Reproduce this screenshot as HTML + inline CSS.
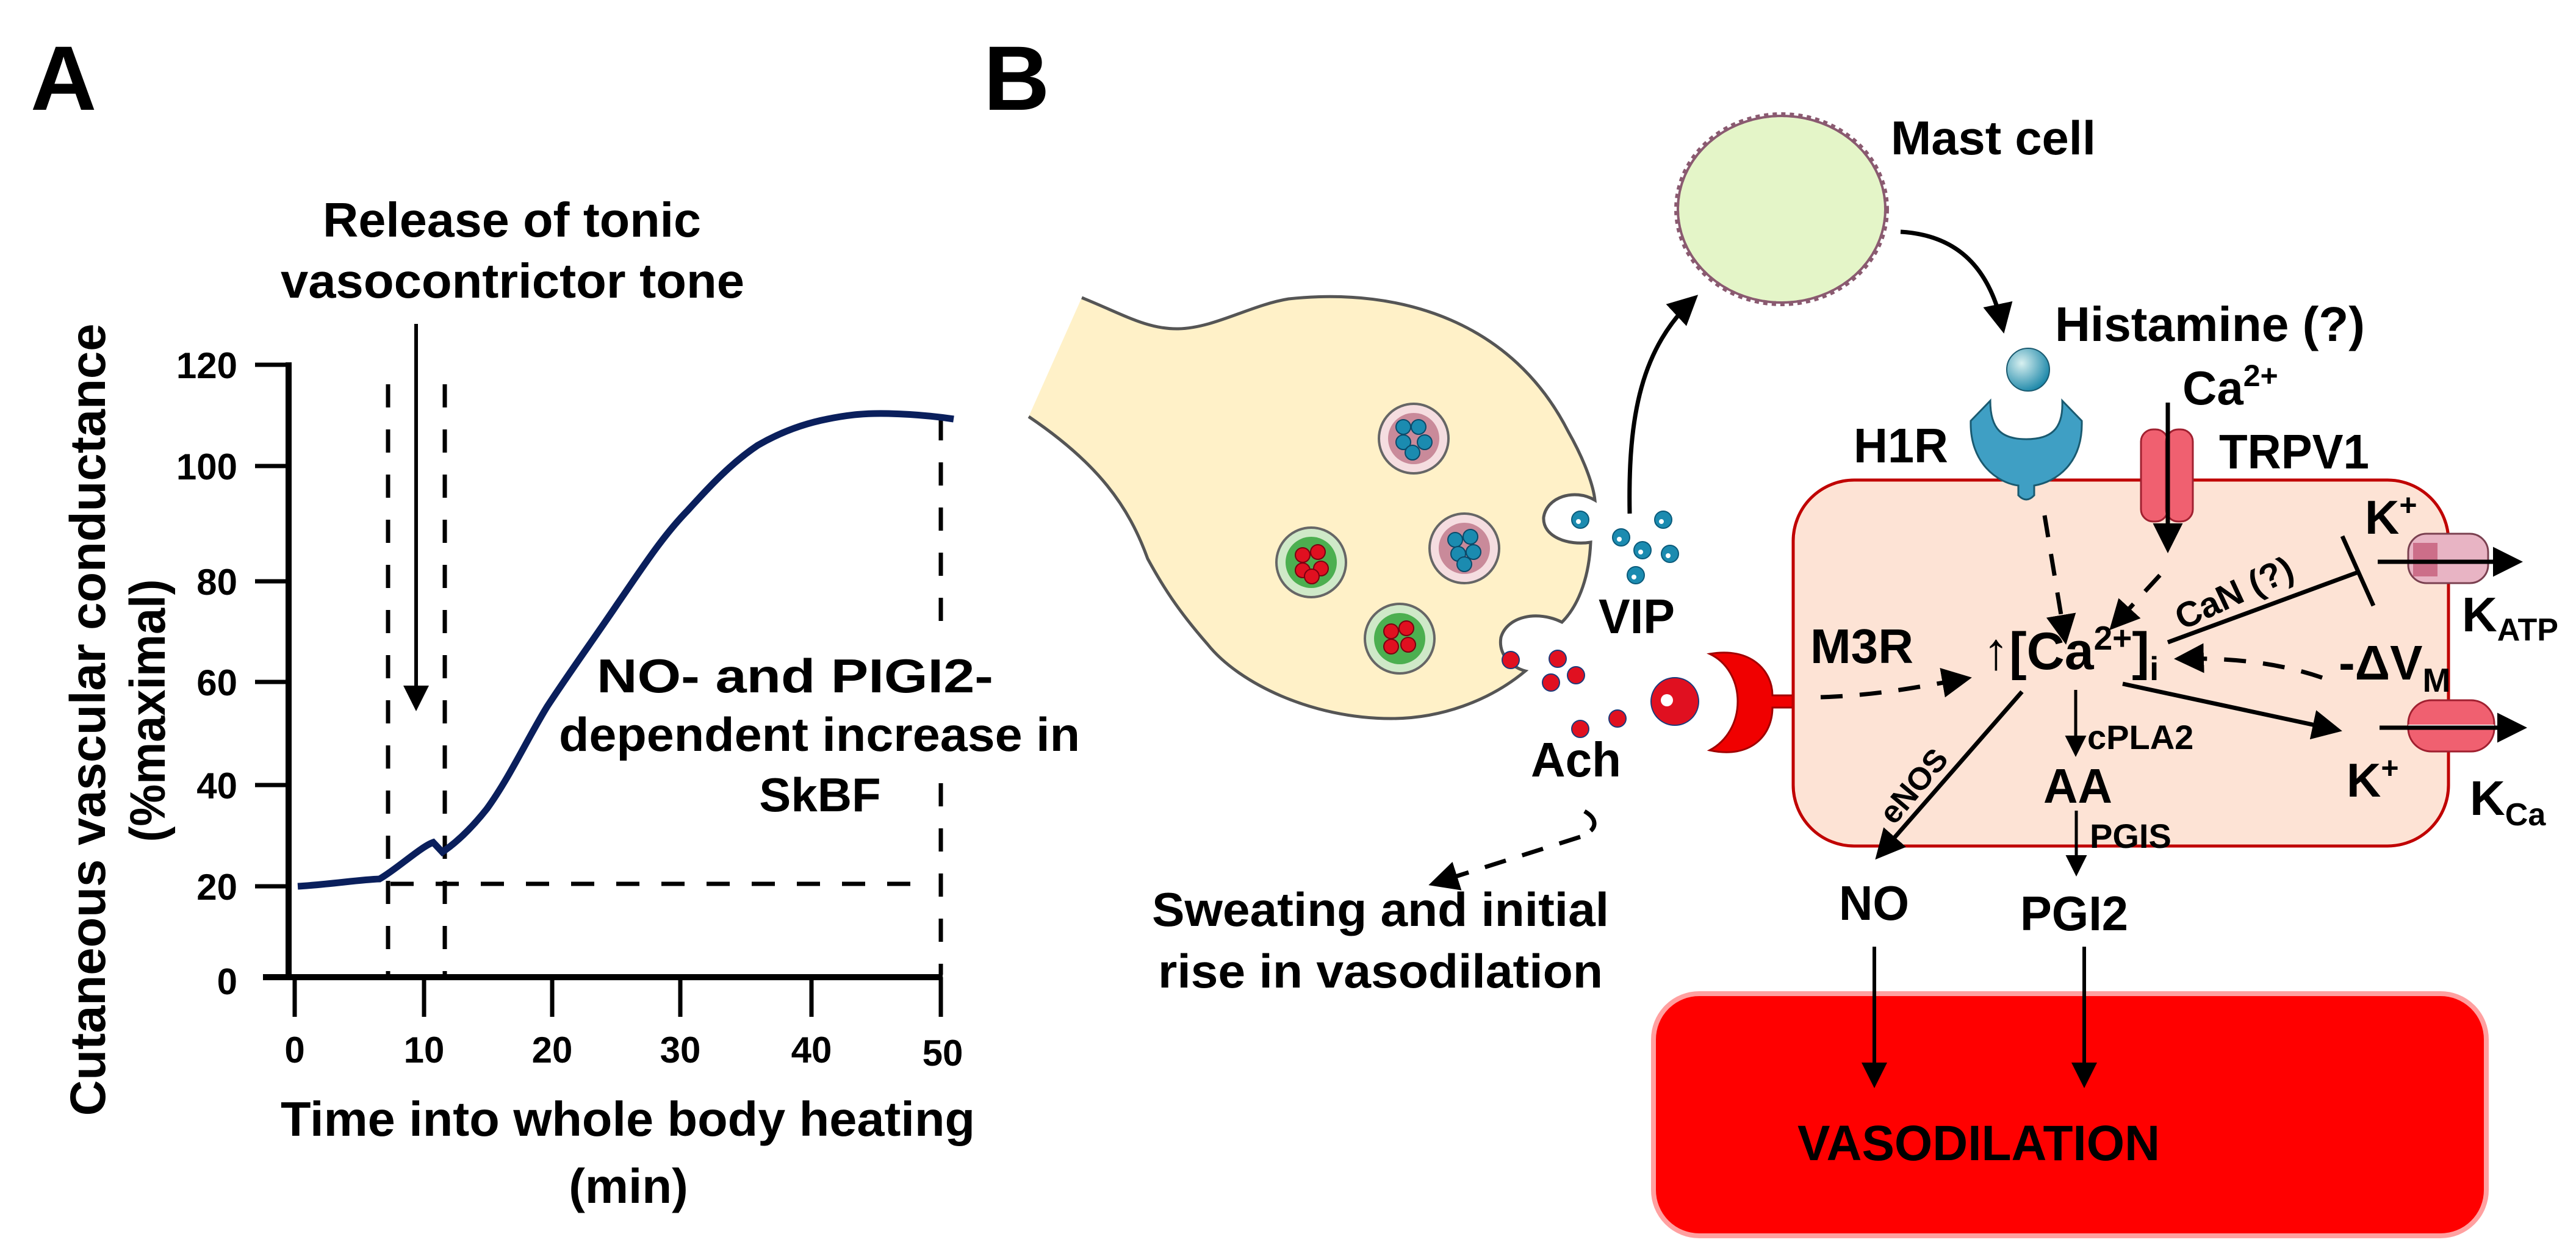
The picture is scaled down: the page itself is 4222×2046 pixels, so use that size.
<!DOCTYPE html>
<html><head><meta charset="utf-8"><style>html,body{margin:0;padding:0;background:#fff}svg{display:block}</style></head>
<body>
<svg xmlns="http://www.w3.org/2000/svg" width="4222" height="2046" viewBox="0 0 4222 2046" font-family="Liberation Sans, Arial, sans-serif" font-weight="bold">
<defs>
<marker id="ah2" markerWidth="8" markerHeight="8" refX="6" refY="4" orient="auto" markerUnits="strokeWidth"><path d="M0,0.5 L7,4 L0,7.5 Z" fill="#000"/></marker>
<radialGradient id="gb" cx="0.35" cy="0.35" r="0.7"><stop offset="0" stop-color="#d8f0f0"/><stop offset="1" stop-color="#1a86a8"/></radialGradient>
</defs>
<rect width="4222" height="2046" fill="#fff"/>

<!-- ===== Panel A ===== -->
<text x="50" y="180" font-size="150">A</text>
<text x="529" y="388" font-size="80" textLength="620" lengthAdjust="spacingAndGlyphs">Release of tonic</text>
<text x="460" y="488" font-size="80" textLength="760" lengthAdjust="spacingAndGlyphs">vasocontrictor tone</text>

<g stroke="#000" fill="none">
<line x1="473" y1="594" x2="473" y2="1606" stroke-width="10"/>
<line x1="431" y1="1602" x2="1545" y2="1602" stroke-width="10"/>
<g stroke-width="7">
<line x1="418" y1="598" x2="478" y2="598"/>
<line x1="418" y1="764" x2="478" y2="764"/>
<line x1="418" y1="953" x2="478" y2="953"/>
<line x1="418" y1="1118" x2="478" y2="1118"/>
<line x1="418" y1="1287" x2="478" y2="1287"/>
<line x1="418" y1="1453" x2="478" y2="1453"/>
<line x1="483" y1="1602" x2="483" y2="1667"/>
<line x1="695" y1="1602" x2="695" y2="1667"/>
<line x1="905" y1="1602" x2="905" y2="1667"/>
<line x1="1115" y1="1602" x2="1115" y2="1667"/>
<line x1="1330" y1="1602" x2="1330" y2="1667"/>
<line x1="1542" y1="1602" x2="1542" y2="1667"/>
</g>
<g stroke-width="7" stroke-dasharray="38 36">
<line x1="636" y1="630" x2="636" y2="1598"/>
<line x1="729" y1="630" x2="729" y2="1598"/>
<line x1="640" y1="1449" x2="1510" y2="1449"/>
<line x1="1542" y1="684" x2="1542" y2="1036"/>
<line x1="1542" y1="1284" x2="1542" y2="1598"/>
</g>
<line x1="682" y1="531" x2="682" y2="1160" stroke-width="6" marker-end="url(#ah2)"/>
<path d="M488,1453 C540,1450 590,1442 622,1441 C650,1425 690,1388 710,1381 L725,1397 C750,1380 775,1355 798,1326 C835,1275 865,1210 897,1158 C935,1100 975,1045 1012,990 C1050,935 1085,880 1127,837 C1165,795 1200,758 1242,730 C1280,708 1320,694 1356,687 C1390,680 1420,677 1456,678 C1495,679 1530,682 1563,687" stroke="#0a1f5c" stroke-width="11"/>
</g>
<g font-size="60" text-anchor="end">
<text x="389" y="620">120</text><text x="389" y="786">100</text><text x="389" y="975">80</text>
<text x="389" y="1140">60</text><text x="389" y="1309">40</text><text x="389" y="1475">20</text><text x="389" y="1630">0</text>
</g>
<g font-size="60" text-anchor="middle">
<text x="483" y="1742">0</text><text x="695" y="1742">10</text><text x="905" y="1742">20</text>
<text x="1115" y="1742">30</text><text x="1330" y="1742">40</text><text x="1545" y="1747">50</text>
</g>
<text x="460" y="1862" font-size="80" textLength="1138" lengthAdjust="spacingAndGlyphs">Time into whole body heating</text>
<text x="1030" y="1972" font-size="80" text-anchor="middle">(min)</text>
<text transform="translate(172,1180) rotate(-90)" font-size="82" text-anchor="middle" textLength="1299" lengthAdjust="spacingAndGlyphs">Cutaneous vascular conductance</text>
<text transform="translate(270,1165) rotate(-90)" font-size="82" text-anchor="middle" textLength="431" lengthAdjust="spacingAndGlyphs">(%maximal)</text>
<text x="1628" y="1135" font-size="78" text-anchor="end" textLength="650" lengthAdjust="spacingAndGlyphs">NO- and PIGI2-</text>
<text x="916" y="1231" font-size="78" textLength="854" lengthAdjust="spacingAndGlyphs">dependent increase in</text>
<text x="1344" y="1330" font-size="78" text-anchor="middle">SkBF</text>

<!-- ===== Panel B ===== -->
<text x="1612" y="180" font-size="150">B</text>

<path d="M1773,488 C1840,515 1880,540 1931,539 C1990,538 2050,500 2112,490 C2300,470 2480,530 2570,707 C2600,760 2612,800 2614,820 C2580,800 2535,815 2530,848 C2528,880 2570,895 2607,889 C2605,940 2590,990 2560,1020 C2520,1000 2470,1010 2460,1045 C2455,1075 2480,1095 2500,1100 C2440,1150 2360,1178 2280,1178 C2150,1178 2030,1120 1979,1056 C1930,1000 1905,960 1881,916 C1850,830 1800,760 1686,683 Z" fill="#fff1c8" stroke="none"/>
<path d="M1773,488 C1840,515 1880,540 1931,539 C1990,538 2050,500 2112,490 C2300,470 2480,530 2570,707 C2600,760 2612,800 2614,820 C2580,800 2535,815 2530,848 C2528,880 2570,895 2607,889 C2605,940 2590,990 2560,1020 C2520,1000 2470,1010 2460,1045 C2455,1075 2480,1095 2500,1100 C2440,1150 2360,1178 2280,1178 C2150,1178 2030,1120 1979,1056 C1930,1000 1905,960 1881,916 C1850,830 1800,760 1686,683" fill="none" stroke="#555" stroke-width="5"/>
<g stroke="#666" stroke-width="4">
<circle cx="2317" cy="719" r="57" fill="#f5dde0"/><circle cx="2317" cy="719" r="42" fill="#c98a9a" stroke="none"/>
<circle cx="2400" cy="899" r="57" fill="#f5dde0"/><circle cx="2400" cy="899" r="42" fill="#c98a9a" stroke="none"/>
<circle cx="2149" cy="922" r="57" fill="#cfe9c8"/><circle cx="2149" cy="922" r="42" fill="#4caf50" stroke="none"/>
<circle cx="2294" cy="1047" r="57" fill="#cfe9c8"/><circle cx="2294" cy="1047" r="42" fill="#4caf50" stroke="none"/>
</g>
<g fill="#1b8bb0" stroke="#0a4a6a" stroke-width="2">
<circle cx="2300" cy="700" r="12"/><circle cx="2325" cy="700" r="12"/><circle cx="2300" cy="725" r="12"/><circle cx="2335" cy="725" r="12"/><circle cx="2315" cy="742" r="12"/>
<circle cx="2385" cy="885" r="12"/><circle cx="2410" cy="880" r="12"/><circle cx="2390" cy="908" r="12"/><circle cx="2415" cy="905" r="12"/><circle cx="2400" cy="925" r="12"/>
</g>
<g fill="#e01020" stroke="#7a0010" stroke-width="2">
<circle cx="2135" cy="910" r="12"/><circle cx="2160" cy="905" r="12"/><circle cx="2135" cy="935" r="12"/><circle cx="2165" cy="932" r="12"/><circle cx="2150" cy="945" r="12"/>
<circle cx="2280" cy="1035" r="12"/><circle cx="2305" cy="1030" r="12"/><circle cx="2280" cy="1060" r="12"/><circle cx="2308" cy="1057" r="12"/>
</g>
<g fill="#1b8bb0" stroke="#0a5a7a" stroke-width="2">
<circle cx="2590" cy="852" r="14"/><circle cx="2657" cy="881" r="14"/><circle cx="2692" cy="902" r="14"/><circle cx="2726" cy="852" r="14"/><circle cx="2737" cy="908" r="14"/><circle cx="2681" cy="943" r="14"/>
</g>
<g fill="#fff"><circle cx="2587" cy="855" r="4"/><circle cx="2654" cy="884" r="4"/><circle cx="2689" cy="905" r="4"/><circle cx="2723" cy="855" r="4"/><circle cx="2734" cy="911" r="4"/><circle cx="2678" cy="946" r="4"/></g>
<text x="2620" y="1038" font-size="80" textLength="125" lengthAdjust="spacingAndGlyphs">VIP</text>
<g fill="#e01020" stroke="#1a3a7a" stroke-width="2">
<circle cx="2476" cy="1082" r="14"/><circle cx="2553" cy="1080" r="14"/><circle cx="2542" cy="1119" r="14"/><circle cx="2583" cy="1107" r="14"/><circle cx="2590" cy="1195" r="14"/><circle cx="2651" cy="1178" r="14"/>
<circle cx="2745" cy="1150" r="39"/>
</g>
<circle cx="2732" cy="1148" r="10" fill="#fff"/>
<text x="2509" y="1273" font-size="80" textLength="148" lengthAdjust="spacingAndGlyphs">Ach</text>
<path d="M2802,1072 C2870,1060 2905,1100 2905,1140 L2945,1140 A10,10 0 0 1 2945,1160 L2905,1160 C2905,1205 2870,1245 2802,1230 C2830,1215 2848,1185 2848,1150 C2848,1115 2830,1085 2802,1072 Z" fill="#f00000" stroke="#a00000" stroke-width="3"/>

<path d="M2671,842 C2668,680 2690,570 2778,488" fill="none" stroke="#000" stroke-width="7" marker-end="url(#ah2)"/>
<ellipse cx="2920" cy="343" rx="170" ry="153" fill="#e4f5c8" stroke="#8a5a70" stroke-width="4"/>
<ellipse cx="2920" cy="343" rx="172" ry="155" fill="none" stroke="#8a5a70" stroke-width="8" stroke-dasharray="7 7"/>
<text x="3099" y="253" font-size="78" textLength="336" lengthAdjust="spacingAndGlyphs">Mast cell</text>
<path d="M3115,380 C3200,385 3260,430 3283,540" fill="none" stroke="#000" stroke-width="7" marker-end="url(#ah2)"/>
<text x="3368" y="559" font-size="80" textLength="508" lengthAdjust="spacingAndGlyphs">Histamine (?)</text>

<rect x="2939" y="787" width="1074" height="600" rx="100" fill="#fde3d5" stroke="#c00000" stroke-width="5"/>
<circle cx="3324" cy="606" r="35" fill="url(#gb)" stroke="#1a5a70" stroke-width="2"/>
<path d="M3230,690 C3228,760 3275,792 3308,796 L3308,812 Q3321,826 3334,812 L3334,796 C3370,790 3414,760 3412,690 L3380,657 C3382,705 3360,720 3321,720 C3282,720 3262,705 3262,657 Z" fill="#3f9fc4" stroke="#1a5a70" stroke-width="3"/>
<text x="3038" y="758" font-size="80" textLength="155" lengthAdjust="spacingAndGlyphs">H1R</text>
<rect x="3509" y="704" width="44" height="151" rx="20" fill="#f06070" stroke="#a02030" stroke-width="3"/>
<rect x="3550" y="704" width="44" height="151" rx="20" fill="#f06070" stroke="#a02030" stroke-width="3"/>
<text x="3577" y="663" font-size="78">Ca<tspan font-size="50" dy="-30">2+</tspan></text>
<line x1="3553" y1="660" x2="3553" y2="900" stroke="#000" stroke-width="7" marker-end="url(#ah2)"/>
<text x="3637" y="768" font-size="80" textLength="246" lengthAdjust="spacingAndGlyphs">TRPV1</text>

<g stroke="#000" stroke-width="7" fill="none">
<line x1="3351" y1="845" x2="3385" y2="1050" stroke-dasharray="36 28" marker-end="url(#ah2)"/>
<line x1="3540" y1="943" x2="3462" y2="1028" stroke-dasharray="36 28" marker-end="url(#ah2)"/>
<line x1="3553" y1="1053" x2="3865" y2="938"/>
<line x1="3839" y1="879" x2="3890" y2="993"/>
<path d="M2984,1143 C3080,1140 3150,1125 3225,1112" stroke-dasharray="36 28" marker-end="url(#ah2)"/>
<path d="M3806,1111 C3730,1085 3650,1078 3570,1080" stroke-dasharray="36 28" marker-end="url(#ah2)"/>
<line x1="3479" y1="1121" x2="3832" y2="1197" marker-end="url(#ah2)"/>
<line x1="3314" y1="1134" x2="3078" y2="1404" marker-end="url(#ah2)"/>
<line x1="3402" y1="1131" x2="3402" y2="1236" stroke-width="5" marker-end="url(#ah2)"/>
<line x1="3403" y1="1329" x2="3403" y2="1432" stroke-width="5" marker-end="url(#ah2)"/>
</g>
<text x="2967" y="1087" font-size="80" textLength="169" lengthAdjust="spacingAndGlyphs">M3R</text>
<text x="3250" y="1097" font-size="86">↑[Ca<tspan font-size="55" dy="-32">2+</tspan><tspan dy="32">]</tspan><tspan font-size="55" dy="18">i</tspan></text>
<text transform="translate(3670,990) rotate(-25)" font-size="58" text-anchor="middle">CaN (?)</text>
<text transform="translate(3150,1300) rotate(-50)" font-size="52" text-anchor="middle">eNOS</text>
<text x="3421" y="1228" font-size="56">cPLA2</text>
<text x="3349" y="1316" font-size="80" textLength="113" lengthAdjust="spacingAndGlyphs">AA</text>
<text x="3425" y="1390" font-size="56">PGIS</text>
<text x="3833" y="1114" font-size="80">-ΔV<tspan font-size="55" dy="20">M</tspan></text>
<text x="3876" y="875" font-size="78">K<tspan font-size="50" dy="-30">+</tspan></text>
<text x="3846" y="1306" font-size="78">K<tspan font-size="50" dy="-30">+</tspan></text>
<rect x="3947" y="875" width="131" height="81" rx="30" fill="#e8b4c4" stroke="#7a4050" stroke-width="3"/>
<rect x="3955" y="890" width="40" height="55" fill="#c05070" opacity="0.7"/>
<line x1="3897" y1="921" x2="4128" y2="921" stroke="#000" stroke-width="7" marker-end="url(#ah2)"/>
<text x="4035" y="1035" font-size="80">K<tspan font-size="52" dy="15">ATP</tspan></text>
<rect x="3947" y="1148" width="141" height="84" rx="38" fill="#f06070" stroke="#a02030" stroke-width="3"/>
<line x1="3947" y1="1190" x2="4088" y2="1190" stroke="#fff" stroke-width="4"/>
<line x1="3900" y1="1193" x2="4135" y2="1193" stroke="#000" stroke-width="7" marker-end="url(#ah2)"/>
<text x="4048" y="1336" font-size="80">K<tspan font-size="52" dy="17">Ca</tspan></text>

<path d="M2597,1330 C2618,1342 2615,1355 2607,1362" fill="none" stroke="#000" stroke-width="7"/>
<line x1="2590" y1="1372" x2="2348" y2="1449" stroke="#000" stroke-width="7" stroke-dasharray="36 28" marker-end="url(#ah2)"/>
<text x="1888" y="1518" font-size="78" textLength="749" lengthAdjust="spacingAndGlyphs">Sweating and initial</text>
<text x="1898" y="1619" font-size="78" textLength="729" lengthAdjust="spacingAndGlyphs">rise in vasodilation</text>

<text x="3014" y="1508" font-size="80" textLength="115" lengthAdjust="spacingAndGlyphs">NO</text>
<text x="3311" y="1525" font-size="80" textLength="177" lengthAdjust="spacingAndGlyphs">PGI2</text>

<rect x="2710" y="1629" width="1365" height="397" rx="75" fill="#ff0000" stroke="#ffa0a0" stroke-width="8"/>
<line x1="3072" y1="1552" x2="3072" y2="1778" stroke="#000" stroke-width="6" marker-end="url(#ah2)"/>
<line x1="3416" y1="1552" x2="3416" y2="1778" stroke="#000" stroke-width="6" marker-end="url(#ah2)"/>
<text x="2946" y="1902" font-size="82" textLength="594" lengthAdjust="spacingAndGlyphs">VASODILATION</text>
</svg>
</body></html>
